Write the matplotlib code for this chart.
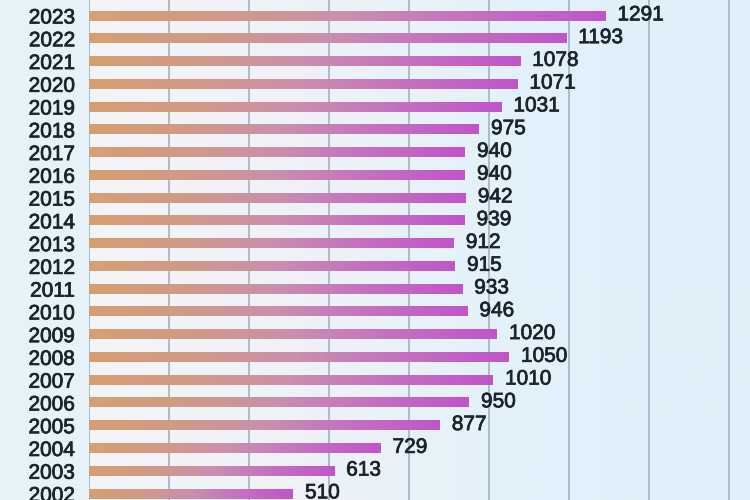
import numpy as np
import matplotlib
matplotlib.use("Agg")
import matplotlib.pyplot as plt
from matplotlib.colors import LinearSegmentedColormap
import matplotlib.patheffects as pe

years = [2002, 2003, 2004, 2005, 2006, 2007, 2008, 2009, 2010, 2011, 2012,
         2013, 2014, 2015, 2016, 2017, 2018, 2019, 2020, 2021, 2022, 2023]
values = [510, 613, 729, 877, 950, 1010, 1050, 1020, 946, 933, 915,
          912, 939, 942, 940, 940, 975, 1031, 1071, 1078, 1193, 1291]
xticks = [0, 200, 400, 600, 800, 1000, 1200, 1400, 1600]

plt.rcParams['font.family'] = ['Liberation Sans', 'DejaVu Sans']

fig = plt.figure(figsize=(7.5, 5), dpi=100, facecolor='#e7f1f8')
ax = fig.add_axes([89/750, 0, 1 - 89/750, 1])

bar_cmap = LinearSegmentedColormap.from_list(
    'bar', ['#d69f72', '#d19a86', '#c98fae', '#c470c0', '#c055cb'])
bg_cmap = LinearSegmentedColormap.from_list(
    'bg', ['#f3f4f6', '#eef2f7', '#e2f1fa', '#dff0fa'])

y0, y1 = -0.264, 21.703
ax.set_xlim(0, 1652.5)
ax.set_ylim(y0, y1)

ax.imshow(np.linspace(0, 1, 256).reshape(1, -1), cmap=bg_cmap, aspect='auto',
          extent=(0, 1652.5, y0, y1), zorder=0, interpolation='bicubic')

for xt in xticks:
    ax.axvline(xt, color='#a9bdc9', lw=1.4, zorder=1)

thick = [pe.withStroke(linewidth=0.55, foreground='#1d252c')]
grad = np.linspace(0, 1, 256).reshape(1, -1)
h = 0.4
for i, (yr, v) in enumerate(zip(years, values)):
    ax.imshow(grad, cmap=bar_cmap, aspect='auto',
              extent=(0, v, i - h / 2, i + h / 2), zorder=2,
              interpolation='bicubic')
    ax.text(v + 30, i + 0.05, str(v), va='center', ha='left',
            fontsize=15, color='#1d252c', zorder=3, path_effects=thick)

ax.set_yticks(range(len(years)))
ax.set_yticklabels([str(y) for y in years], fontsize=15, color='#1d252c')
for lbl in ax.get_yticklabels():
    lbl.set_path_effects(thick)
ax.tick_params(axis='y', length=0, pad=10)
ax.set_xticks([])
for s in ax.spines.values():
    s.set_visible(False)

fig.savefig('out.png', dpi=100, facecolor=fig.get_facecolor())
